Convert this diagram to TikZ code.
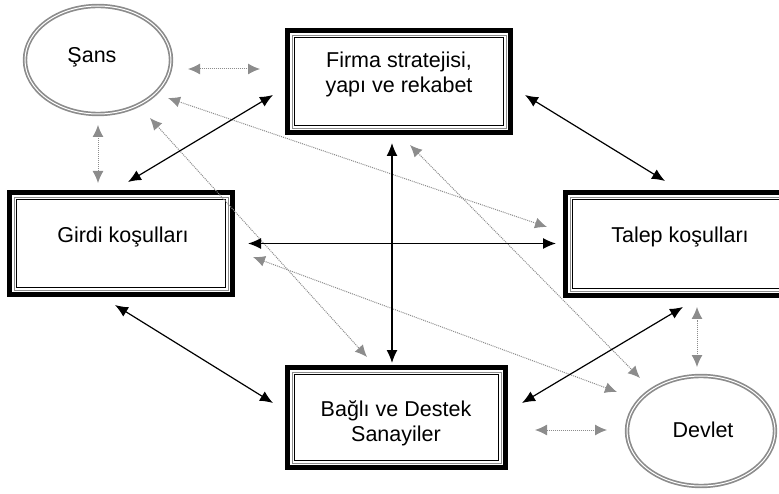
\documentclass[tikz,border=0pt]{standalone}
\usepackage{fontspec}
\setmainfont{Liberation Sans}
\usetikzlibrary{shapes.geometric,arrows.meta}
\definecolor{lgray}{HTML}{8C8C8C}
\tikzset{
 outerbox/.style={rectangle, draw=black, line width=5pt, inner sep=0pt, minimum width=223pt, minimum height=102pt},
 lbl/.style={font=\fontsize{21.5}{25}\selectfont, align=center, inner sep=0pt},
 oval/.style={ellipse, draw=lgray, double=white, line width=1.7pt, double distance=1pt, inner sep=0pt},
 solidarr/.style={draw=black, line width=1.2pt, {Latex[length=13pt,width=11pt]}-{Latex[length=13pt,width=11pt]}},
 dotarr/.style={draw=lgray, line width=1pt, densely dotted, {Latex[length=12pt,width=11pt]}-{Latex[length=12pt,width=11pt]}},
 grayrule/.style={draw=lgray, line width=0.8pt},
 blackrule/.style={draw=black, line width=0.8pt},
}
\begin{document}
\begin{tikzpicture}[x=1pt,y=-1pt]
\useasboundingbox (0,0) rectangle (779,494);
\clip (0,0) rectangle (779,494);
% boxes
\node[outerbox] (f) at (399,81.5) {};
\node[outerbox] (g) at (121,243.5) {};
\node[outerbox, minimum height=103pt] (t) at (677,244) {};
\node[outerbox, minimum width=218pt, minimum height=100pt] (b) at (396.5,417.5) {};
\foreach \n in {f,g,t,b}{
  \draw[grayrule] ([shift={(7,7)}]\n.north west) rectangle ([shift={(-7,-7)}]\n.south east);
  \draw[blackrule] ([shift={(9.5,9.5)}]\n.north west) rectangle ([shift={(-9.5,-9.5)}]\n.south east);
}
% ellipses
\node[oval, minimum width=146pt, minimum height=108pt] (s) at (98,60) {};
\node[oval, minimum width=148pt, minimum height=110pt] (d) at (701,431) {};
% labels
\node[lbl] (ft) at (399,74.5) {Firma stratejisi,\\yapı ve rekabet};
\node[lbl] (gt) at (123,237) {Girdi koşulları};
\node[lbl] (tt) at (680,237) {Talep koşulları};
\node[lbl] (bt) at (396,423.5) {Bağlı ve Destek\\Sanayiler};
\node[lbl] (st) at (92,57) {Şans};
\node[lbl] (dt) at (703,430) {Devlet};
% gray dotted connectors
\draw[dotarr] ([shift={(90,9)}]s.center) -- ([shift={(-139,-12.5)}]f.center);
\draw[dotarr] ([shift={(0,65)}]s.center) -- ([shift={(-23,-60.5)}]g.center);
\draw[dotarr] ([shift={(138.5,12.5)}]b.center) -- ([shift={(-94,-1)}]d.center);
\draw[dotarr] ([shift={(20,63)}]t.center) -- ([shift={(-4,-64)}]d.center);
\draw[dotarr] ([shift={(70,38)}]s.center) -- ([shift={(-130,-17)}]t.center);
\draw[dotarr] ([shift={(52,58)}]s.center) -- ([shift={(-29.5,-60.5)}]b.center);
\draw[dotarr] ([shift={(132,13.5)}]g.center) -- ([shift={(-84,-39)}]d.center);
\draw[dotarr] ([shift={(11,63.5)}]f.center) -- ([shift={(-61,-53)}]d.center);
% black connectors
\draw[solidarr] ([shift={(7,-61.5)}]g.center) -- ([shift={(-126,13.5)}]f.center);
\draw[solidarr] ([shift={(126,13.5)}]f.center) -- ([shift={(-12,-63)}]t.center);
\draw[solidarr] ([shift={(127,0)}]g.center) -- ([shift={(-121,-0.5)}]t.center);
\draw[solidarr] ([shift={(-7,61.5)}]f.center) -- ([shift={(-4.5,-54.5)}]b.center);
\draw[solidarr] ([shift={(-6,61.5)}]g.center) -- ([shift={(-123.5,-14.5)}]b.center);
\draw[solidarr] ([shift={(125.5,-14.5)}]b.center) -- ([shift={(6,63)}]t.center);
\end{tikzpicture}
\end{document}
